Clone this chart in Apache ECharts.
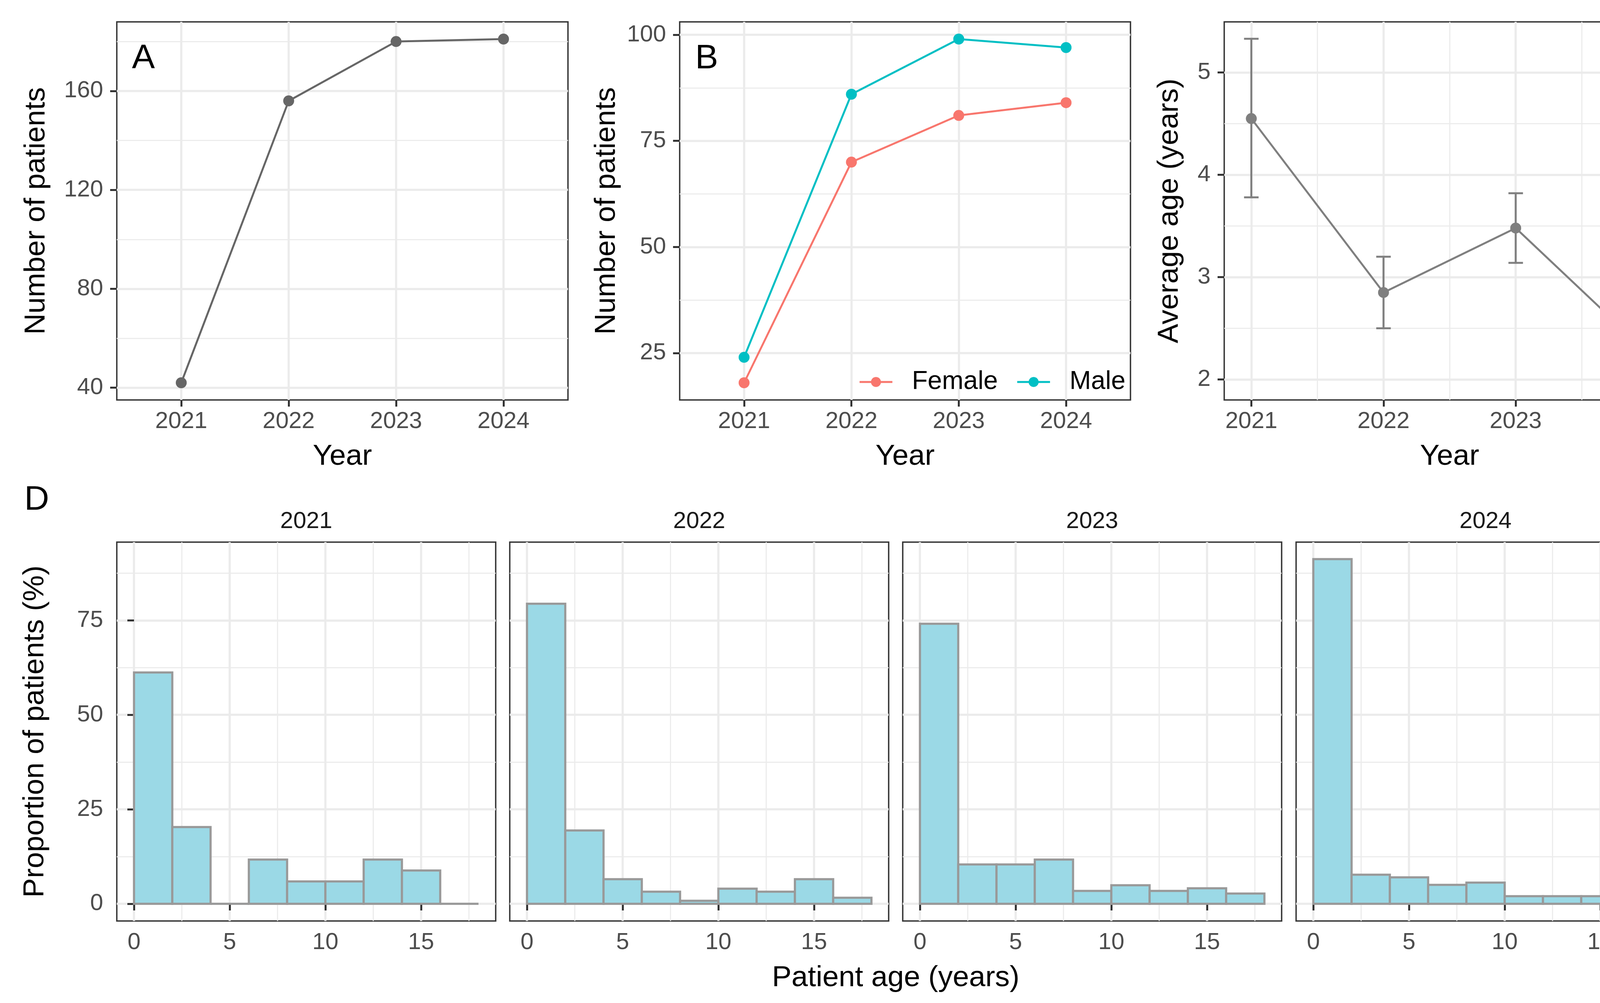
<!DOCTYPE html>
<html>
<head>
<meta charset="utf-8">
<script src="https://cdn.jsdelivr.net/npm/echarts@6/dist/echarts.min.js"></script>
<style>
html,body{margin:0;padding:0;background:#ffffff;}
#chart{width:4335px;height:2568px;}
</style>
</head>
<body>
<div id="chart"></div>
<script>
// ---------------- data ----------------
const years = [2021, 2022, 2023, 2024];
const totalPatients = [42, 156, 180, 181];
const femalePatients = [18, 70, 81, 84];
const malePatients = [24, 86, 99, 97];
const meanAge = [4.55, 2.85, 3.48, 2.26];
const ageLower = [3.78, 2.50, 3.14, 1.97];
const ageUpper = [5.33, 3.20, 3.82, 2.56];

const binEdges = [0, 2, 4, 6, 8, 10, 12, 14, 16, 18];
const hist2021 = [61.2, 20.3, 0, 11.7, 5.9, 5.9, 11.7, 8.8, 0];
const hist2022 = [79.4, 19.4, 6.5, 3.2, 0.8, 4.0, 3.2, 6.5, 1.6];
const hist2023 = [74.1, 10.4, 10.4, 11.7, 3.4, 4.9, 3.4, 4.1, 2.7];
const hist2024 = [91.2, 7.7, 7.0, 5.0, 5.6, 2.0, 2.0, 2.0, 2.0];
const histLabels = ['2021', '2022', '2023', '2024'];

const yearTicks = [2021, 2022, 2023, 2024];
const ticksA = [40, 80, 120, 160];
const ticksB = [25, 50, 75, 100];
const ticksC = [2, 3, 4, 5];
const ticksDx = [0, 5, 10, 15];
const ticksDy = [0, 25, 50, 75];

// ---------------- style ----------------
const FONT = 'Liberation Sans, Arial, Helvetica, sans-serif';
const GRID_MAJOR = '#EBEBEB';
const BORDER = '#333333';

const grids = [
  {left: 299,  top: 56,   width: 1155, height: 968},  // A
  {left: 1740, top: 56,   width: 1154, height: 968},  // B
  {left: 3134, top: 56,   width: 1154, height: 968},  // C
  {left: 299,  top: 1388, width: 970,  height: 970},  // D 2021
  {left: 1305, top: 1388, width: 970,  height: 970},  // D 2022
  {left: 2311, top: 1388, width: 970,  height: 970},  // D 2023
  {left: 3318, top: 1388, width: 970,  height: 970}   // D 2024
].map(g => Object.assign({show: true, borderColor: BORDER, borderWidth: 3.5,
  backgroundColor: 'transparent', containLabel: false}, g));

function axis(o) {
  return {
    type: 'value', gridIndex: o.grid, min: o.min, max: o.max,
    minInterval: o.step, maxInterval: o.step,
    axisLine: {show: false},
    axisTick: {show: o.ticksShow !== false, length: 17, customValues: o.ticks,
      lineStyle: {color: BORDER, width: 5}},
    axisLabel: {show: o.labelsShow !== false, customValues: o.ticks, margin: o.margin,
      fontSize: 60, color: '#4D4D4D', fontFamily: FONT,
      formatter: function (v) { return String(v); }},
    splitLine: {show: true, lineStyle: {color: GRID_MAJOR, width: 5.5}},
    minorTick: {show: false, splitNumber: 2},
    minorSplitLine: {show: !!o.minor, lineStyle: {color: GRID_MAJOR, width: 2.75}},
    name: o.name || '', nameLocation: 'middle', nameGap: o.nameGap || 0,
    nameTextStyle: {fontSize: 75, color: '#000000', fontFamily: FONT}
  };
}

const xAxes = [
  axis({grid: 0, min: 2020.4, max: 2024.6, step: 1, ticks: yearTicks, margin: 25, name: 'Year', nameGap: 108}),
  axis({grid: 1, min: 2020.4, max: 2024.6, step: 1, ticks: yearTicks, margin: 25, name: 'Year', nameGap: 108}),
  axis({grid: 2, min: 2020.795, max: 2024.205, step: 1, ticks: yearTicks, margin: 25, minor: true, name: 'Year', nameGap: 108}),
  axis({grid: 3, min: -0.9, max: 18.9, step: 5, ticks: ticksDx, margin: 25, minor: true}),
  axis({grid: 4, min: -0.9, max: 18.9, step: 5, ticks: ticksDx, margin: 25, minor: true}),
  axis({grid: 5, min: -0.9, max: 18.9, step: 5, ticks: ticksDx, margin: 25, minor: true}),
  axis({grid: 6, min: -0.9, max: 18.9, step: 5, ticks: ticksDx, margin: 25, minor: true})
];
const yAxes = [
  axis({grid: 0, min: 35.05, max: 187.95, step: 40, ticks: ticksA, margin: 35, minor: true, name: 'Number of patients', nameGap: 168}),
  axis({grid: 1, min: 13.95, max: 103.05, step: 25, ticks: ticksB, margin: 35, minor: true, name: 'Number of patients', nameGap: 149}),
  axis({grid: 2, min: 1.80, max: 5.495, step: 1, ticks: ticksC, margin: 35, minor: true, name: 'Average age (years)', nameGap: 102}),
  axis({grid: 3, min: -4.56, max: 95.7, step: 25, ticks: ticksDy, margin: 35, minor: true, name: 'Proportion of patients (%)', nameGap: 171}),
  axis({grid: 4, min: -4.56, max: 95.7, step: 25, ticks: ticksDy, minor: true, ticksShow: false, labelsShow: false}),
  axis({grid: 5, min: -4.56, max: 95.7, step: 25, ticks: ticksDy, minor: true, ticksShow: false, labelsShow: false}),
  axis({grid: 6, min: -4.56, max: 95.7, step: 25, ticks: ticksDy, minor: true, ticksShow: false, labelsShow: false})
];

function pairs(xs, ys) { return xs.map((x, i) => [x, ys[i]]); }

function lineSeries(name, gi, values, color) {
  return {
    type: 'line', name: name, xAxisIndex: gi, yAxisIndex: gi,
    data: pairs(years, values), symbol: 'circle', symbolSize: 28, showSymbol: true,
    lineStyle: {color: color, width: 5}, itemStyle: {color: color},
    emphasis: {disabled: true}, silent: true, z: 3
  };
}

const series = [
  lineSeries('total', 0, totalPatients, '#666666'),
  lineSeries('Female', 1, femalePatients, '#F8766D'),
  lineSeries('Male', 1, malePatients, '#00BFC4'),
  lineSeries('mean age', 2, meanAge, '#7F7F7F'),
  {
    type: 'custom', xAxisIndex: 2, yAxisIndex: 2, silent: true, z: 3,
    data: years.map((y, i) => [y, ageLower[i], ageUpper[i]]),
    encode: {x: 0, y: [1, 2]},
    renderItem: function (params, api) {
      const x = api.value(0), lo = api.value(1), hi = api.value(2);
      const half = 0.055;
      const pLo = api.coord([x, lo]), pHi = api.coord([x, hi]);
      const cL = api.coord([x - half, hi]), cR = api.coord([x + half, hi]);
      const dL = api.coord([x - half, lo]), dR = api.coord([x + half, lo]);
      const st = {stroke: '#7F7F7F', lineWidth: 5, fill: null};
      return {type: 'group', children: [
        {type: 'line', shape: {x1: pLo[0], y1: pLo[1], x2: pHi[0], y2: pHi[1]}, style: st},
        {type: 'line', shape: {x1: cL[0], y1: cL[1], x2: cR[0], y2: cR[1]}, style: st},
        {type: 'line', shape: {x1: dL[0], y1: dL[1], x2: dR[0], y2: dR[1]}, style: st}
      ]};
    }
  }
];

[hist2021, hist2022, hist2023, hist2024].forEach((h, k) => {
  series.push({
    type: 'custom', xAxisIndex: 3 + k, yAxisIndex: 3 + k, silent: true, z: 3,
    data: h.map((v, i) => [binEdges[i], binEdges[i + 1], v]),
    encode: {x: [0, 1], y: 2},
    renderItem: function (params, api) {
      const p0 = api.coord([api.value(0), 0]);
      const p1 = api.coord([api.value(1), api.value(2)]);
      return {type: 'rect',
        shape: {x: p0[0], y: p1[1], width: p1[0] - p0[0], height: p0[1] - p1[1]},
        style: {fill: '#9BD9E6', stroke: '#999999', lineWidth: 5.5}};
    }
  });
});

function txt(text, x, y, size, color, align) {
  return {type: 'text', x: x, y: y, silent: true, z: 10,
    style: {text: text, fontSize: size, fill: color, fontFamily: FONT,
      align: align || 'center', verticalAlign: 'middle'}};
}

const graphics = [
  txt('A', 367, 151, 88, '#000000'),
  txt('B', 1809, 151, 88, '#000000'),
  txt('C', 4210, 151, 88, '#000000'),
  txt('D', 94, 1281, 88, '#000000'),
  txt('Patient age (years)', 2293, 2504, 75, '#000000')
];
histLabels.forEach((lab, k) => {
  const g = grids[3 + k];
  graphics.push(txt(lab, g.left + g.width / 2, 1335, 60, '#1A1A1A'));
});

const option = {
  animation: false,
  backgroundColor: '#ffffff',
  grid: grids,
  xAxis: xAxes,
  yAxis: yAxes,
  legend: {
    show: true, data: ['Female', 'Male'], left: 2198, top: 945, padding: 0,
    orient: 'horizontal', itemWidth: 84, itemHeight: 32, itemGap: 47,
    selectedMode: false,
    lineStyle: {width: 5},
    textStyle: {fontSize: 66, color: '#000000', fontFamily: FONT, padding: [0, 0, 0, 45]}
  },
  series: series,
  graphic: graphics
};

const chart = echarts.init(document.getElementById('chart'), null, {renderer: 'canvas', width: 4335, height: 2568});
chart.setOption(option);
</script>
</body>
</html>
